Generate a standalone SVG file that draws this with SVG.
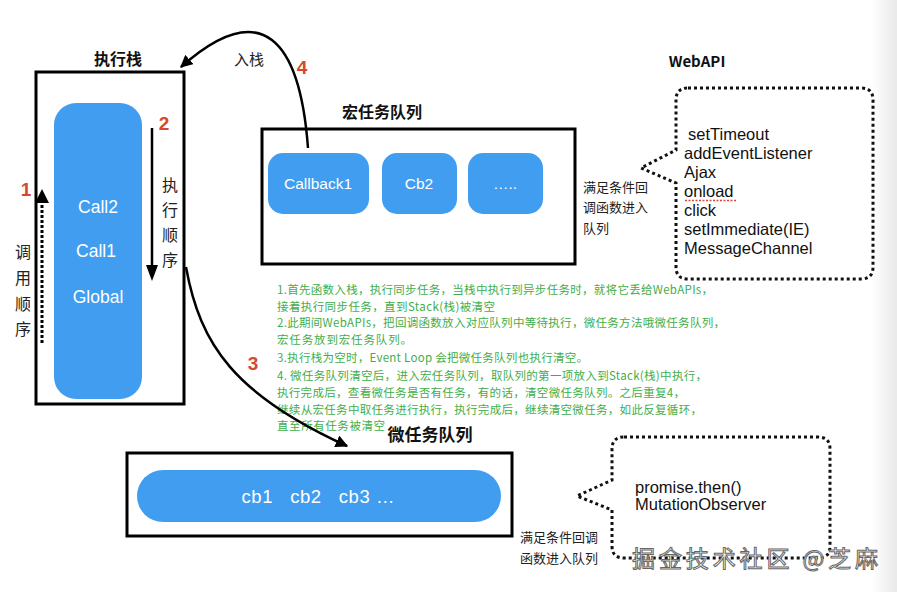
<svg xmlns="http://www.w3.org/2000/svg" width="897" height="592" viewBox="0 0 897 592">
<defs>
<style>
.box{fill:none;stroke:#000;stroke-width:3}
.blue{fill:#419DF0}
.wt{fill:#fff;font-family:"Liberation Sans",Arial,sans-serif;text-anchor:middle}
.cn{font-family:"Noto Sans CJK SC","Liberation Sans",sans-serif;fill:#222}
.title{font-family:"Noto Sans CJK SC",sans-serif;font-weight:bold;fill:#111}
.red{font-family:"Liberation Sans",Arial,sans-serif;font-weight:bold;fill:#D8472F;font-size:19px;text-anchor:middle}
.api{font-family:"Liberation Sans",Arial,sans-serif;font-size:16.5px;fill:#111}
.green{font-family:"Noto Sans CJK SC","Liberation Sans",sans-serif;font-size:11.5px;fill:#3FAE4A}
.dot{fill:none;stroke:#111;stroke-width:3;stroke-dasharray:3 3}
.curve{fill:none;stroke:#000;stroke-width:2.5}
</style>
<marker id="ah" viewBox="0 0 10 10" refX="9" refY="5" markerWidth="5" markerHeight="5" orient="auto" markerUnits="strokeWidth">
<path d="M0,0 L10,5 L0,10 Z" fill="#000"/>
</marker>
<linearGradient id="edge" x1="0" y1="0" x2="1" y2="0">
<stop offset="0" stop-color="#fff"/>
<stop offset="1" stop-color="#e9e9e9"/>
</linearGradient>
</defs>
<rect width="897" height="592" fill="#fff"/>
<rect x="872" y="0" width="25" height="592" fill="url(#edge)"/>

<g id="stack">
<text x="118" y="65" class="title" font-size="16" text-anchor="middle">执行栈</text>
<rect x="36" y="72" width="148" height="332" class="box"/>
<rect x="54" y="103" width="88" height="296" rx="22" class="blue"/>
<text x="98" y="213" class="wt" font-size="17.5">Call2</text>
<text x="96" y="257" class="wt" font-size="17.5">Call1</text>
<text x="98" y="303" class="wt" font-size="17.5">Global</text>
<text x="26" y="196" class="red">1</text>
<line x1="42" y1="343" x2="42" y2="202" stroke="#000" stroke-width="3" stroke-dasharray="3 2"/>
<polygon points="42,189 35,203 49,203" fill="#000"/>
<g class="cn" font-size="16" text-anchor="middle">
<text x="23" y="258">调</text>
<text x="23" y="284">用</text>
<text x="23" y="310">顺</text>
<text x="23" y="335">序</text>
</g>
<text x="164" y="130" class="red">2</text>
<line x1="152" y1="128" x2="152" y2="266" stroke="#000" stroke-width="2.5"/>
<polygon points="146,265 158,265 152,281" fill="#000"/>
<g class="cn" font-size="16" text-anchor="middle">
<text x="170" y="191">执</text>
<text x="170" y="216">行</text>
<text x="170" y="241">顺</text>
<text x="170" y="266">序</text>
</g>
</g>

<g id="macro-queue">
<text x="382" y="118" class="title" font-size="16" text-anchor="middle">宏任务队列</text>
<rect x="262" y="129" width="313" height="135" class="box"/>
<g id="callback1">
<rect x="268" y="153" width="101" height="61" rx="15" class="blue"/>
<text x="318" y="189" class="wt" font-size="15.5">Callback1</text>
</g>
<g id="cb2">
<rect x="382" y="153" width="75" height="61" rx="15" class="blue"/>
<text x="419" y="189" class="wt" font-size="15.5">Cb2</text>
</g>
<g id="more">
<rect x="468" y="153" width="75" height="61" rx="15" class="blue"/>
<text x="505" y="189" class="wt" font-size="15.5">…..</text>
</g>
</g>

<g id="macro-label" class="cn" font-size="13">
<text x="583" y="192">满足条件回</text>
<text x="583" y="212">调函数进入</text>
<text x="583" y="233">队列</text>
</g>

<g id="webapi">
<text x="697" y="67" class="title" font-size="15" text-anchor="middle">WebAPI</text>
<path class="dot" d="M688,88 H861 Q873,88 873,100 V267 Q873,279 861,279 H688 Q676,279 676,267 V183 L641,168 L676,150 V100 Q676,88 688,88 Z"/>
<text x="688" y="140" class="api">setTimeout</text>
<text x="684" y="159" class="api">addEventListener</text>
<text x="684" y="178" class="api">Ajax</text>
<text x="684" y="197" class="api">onload</text>
<line x1="685" y1="200.5" x2="737" y2="200.5" stroke="#E0443A" stroke-width="1.5" stroke-dasharray="2 1.5"/>
<text x="684" y="216" class="api">click</text>
<text x="684" y="235" class="api">setImmediate(IE)</text>
<text x="684" y="254" class="api">MessageChannel</text>
</g>

<g id="notes" class="green">
<text x="277" y="294" textLength="436" lengthAdjust="spacing">1.首先函数入栈，执行同步任务，当栈中执行到异步任务时，就将它丢给WebAPIs，</text>
<text x="277" y="311" textLength="218" lengthAdjust="spacing">接着执行同步任务，直到Stack(栈)被清空</text>
<text x="277" y="327" textLength="448" lengthAdjust="spacing">2.此期间WebAPIs，把回调函数放入对应队列中等待执行，微任务方法哦微任务队列，</text>
<text x="277" y="344" textLength="135" lengthAdjust="spacing">宏任务放到宏任务队列。</text>
<text x="277" y="362" textLength="311" lengthAdjust="spacing">3.执行栈为空时，Event Loop 会把微任务队列也执行清空。</text>
<text x="277" y="380" textLength="430" lengthAdjust="spacing">4. 微任务队列清空后，进入宏任务队列，取队列的第一项放入到Stack(栈)中执行，</text>
<text x="277" y="397" textLength="408" lengthAdjust="spacing">执行完成后，查看微任务是否有任务，有的话，清空微任务队列。之后重复4，</text>
<text x="277" y="414" textLength="425" lengthAdjust="spacing">继续从宏任务中取任务进行执行，执行完成后，继续清空微任务，如此反复循环，</text>
<text x="277" y="430" textLength="108" lengthAdjust="spacing">直至所有任务被清空</text>
</g>

<g id="micro-queue">
<text x="430" y="441" class="title" font-size="17" text-anchor="middle">微任务队列</text>
<rect x="127" y="453" width="385" height="83" class="box"/>
<rect x="137" y="470" width="364" height="52" rx="26" class="blue"/>
<text x="318" y="503" class="wt" font-size="18.5" xml:space="preserve" textLength="153" lengthAdjust="spacing">cb1   cb2   cb3 …</text>
</g>

<g id="micro-apis">
<path class="dot" d="M624,437 H818 Q830,437 830,449 V546 Q830,558 818,558 H624 Q612,558 612,546 V510 L577,496 L612,480 V449 Q612,437 624,437 Z"/>
<text x="635" y="493" class="api">promise.then()</text>
<text x="635" y="510" class="api">MutationObserver</text>
</g>

<g id="micro-label" class="cn" font-size="13">
<text x="520" y="542">满足条件回调</text>
<text x="520" y="563">函数进入队列</text>
</g>

<g id="connectors">
<path class="curve" d="M308,148 C300,40 262,-5 181,67" marker-end="url(#ah)"/>
<path class="curve" d="M186,267 C200,345 235,395 347,446" marker-end="url(#ah)"/>
</g>
<g id="connector-labels">
<text x="249" y="65" class="cn" font-size="15" text-anchor="middle">入栈</text>
<text x="302" y="74" class="red">4</text>
<text x="253" y="370" class="red">3</text>
</g>

<text x="632" y="567" font-family="Noto Sans CJK SC,sans-serif" font-size="23" fill="#fff" stroke="#666" stroke-width="1" textLength="246" lengthAdjust="spacing">掘金技术社区 @芝麻</text>
</svg>
